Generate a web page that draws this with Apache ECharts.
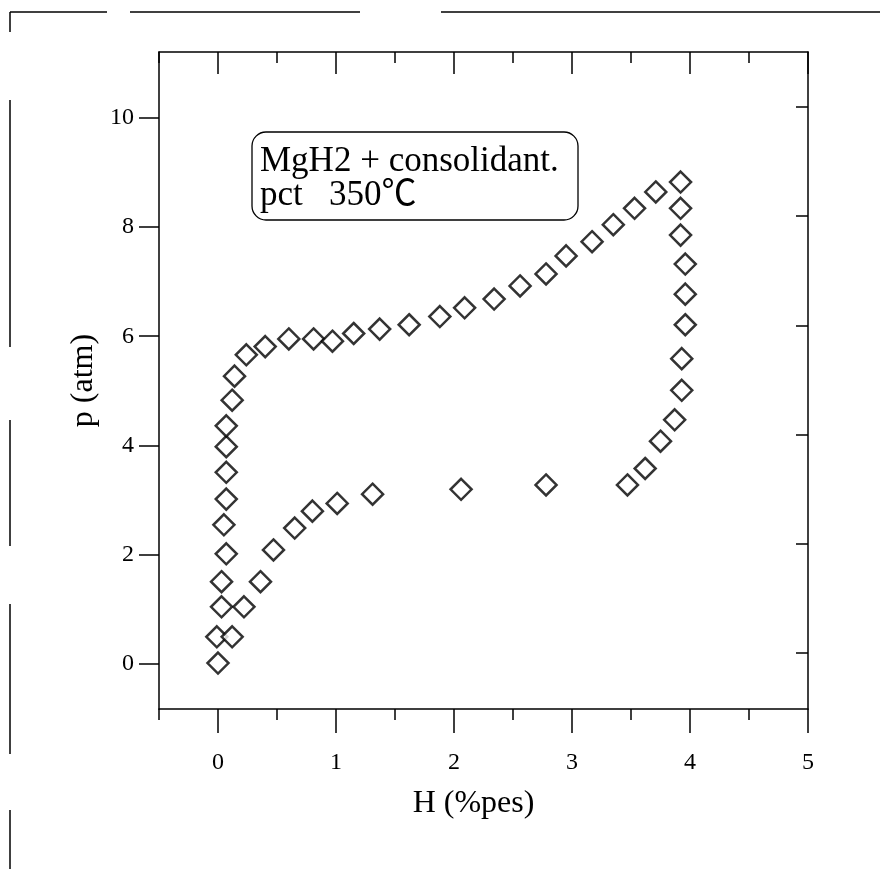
<!DOCTYPE html>
<html><head><meta charset="utf-8">
<script src="https://cdn.jsdelivr.net/npm/echarts@6/dist/echarts.min.js"></script>
<style>html,body{margin:0;padding:0;background:#fff}#c{width:880px;height:869px}</style>
</head><body><div id="c"></div>
<script>
// Absorption branch (upper, ~6 atm plateau)
const absH = [0.00, -0.01, 0.03, 0.03, 0.07, 0.05, 0.07, 0.07, 0.07, 0.07, 0.12, 0.14, 0.24, 0.40, 0.60, 0.81, 0.97, 1.15, 1.37, 1.62, 1.88, 2.09, 2.34, 2.56, 2.78, 2.95, 3.17, 3.35, 3.53, 3.71, 3.92];
const absP = [0.02, 0.50, 1.05, 1.51, 2.02, 2.55, 3.02, 3.51, 3.98, 4.36, 4.83, 5.27, 5.66, 5.81, 5.95, 5.95, 5.91, 6.05, 6.13, 6.21, 6.36, 6.52, 6.68, 6.92, 7.14, 7.47, 7.73, 8.04, 8.34, 8.64, 8.82];
// Desorption branch (lower, ~3 atm plateau)
const desH = [3.92, 3.92, 3.96, 3.96, 3.96, 3.93, 3.93, 3.87, 3.75, 3.62, 3.47, 2.78, 2.06, 1.31, 1.01, 0.80, 0.65, 0.47, 0.36, 0.22, 0.12];
const desP = [8.34, 7.85, 7.32, 6.77, 6.21, 5.59, 5.01, 4.47, 4.08, 3.58, 3.28, 3.28, 3.20, 3.11, 2.94, 2.80, 2.49, 2.09, 1.51, 1.05, 0.50];

const xTicks = [0, 1, 2, 3, 4, 5];
const yTicks = [0, 2, 4, 6, 8, 10];
const xTitle = 'H (%pes)';
const yTitle = 'p (atm)';
const noteLines = ['MgH2 + consolidant.', 'pct   350\u2103'];

const FONT = '"Liberation Serif", "Times New Roman", "Noto Sans CJK JP", serif';
const INK = '#000';

function pairs(xs, ys) { return xs.map((x, i) => [x, ys[i]]); }

const chart = echarts.init(document.getElementById('c'), null, { renderer: 'canvas' });

const lineStyle = { color: INK, width: 1.5 };
const xMin = -0.5, xMax = 5;
const yMin = -0.82, yMax = 11.2;

const option = {
  backgroundColor: '#fff',
  animation: false,
  grid: { left: 159, right: 72, top: 52, bottom: 160, containLabel: false },
  xAxis: [
    { type: 'value', position: 'bottom', min: xMin, max: xMax, interval: 0.5,
      axisLine: { show: true, onZero: false, lineStyle }, axisTick: { show: true, inside: false, length: 11, lineStyle },
      axisLabel: { show: false }, splitLine: { show: false } },
    { type: 'value', position: 'bottom', min: xMin, max: xMax,
      axisLine: { show: false, onZero: false }, axisTick: { show: true, inside: false, length: 24, customValues: xTicks, lineStyle },
      axisLabel: { show: true, customValues: xTicks, margin: 42, color: INK, fontFamily: FONT, fontSize: 24 },
      splitLine: { show: false },
      name: xTitle, nameLocation: 'middle', nameGap: 79,
      nameTextStyle: { color: INK, fontFamily: FONT, fontSize: 32, padding: [0, 20, 0, 0] } },
    { type: 'value', position: 'top', min: xMin, max: xMax, interval: 0.5,
      axisLine: { show: true, onZero: false, lineStyle }, axisTick: { show: true, inside: true, length: 11, lineStyle },
      axisLabel: { show: false }, splitLine: { show: false } },
    { type: 'value', position: 'top', min: xMin, max: xMax,
      axisLine: { show: false, onZero: false }, axisTick: { show: true, inside: true, length: 22, customValues: xTicks, lineStyle },
      axisLabel: { show: false }, splitLine: { show: false } }
  ],
  yAxis: [
    { type: 'value', position: 'left', min: yMin, max: yMax,
      axisLine: { show: true, onZero: false, lineStyle }, axisTick: { show: true, inside: false, length: 20, customValues: yTicks, lineStyle },
      axisLabel: { show: true, customValues: yTicks, margin: 25, color: INK, fontFamily: FONT, fontSize: 24 },
      splitLine: { show: false },
      name: yTitle, nameLocation: 'middle', nameGap: 54,
      nameTextStyle: { color: INK, fontFamily: FONT, fontSize: 32 } },
    { type: 'value', position: 'right', min: yMin - 0.2, max: yMax - 0.2,
      axisLine: { show: true, onZero: false, lineStyle }, axisTick: { show: true, inside: true, length: 12, customValues: yTicks, lineStyle },
      axisLabel: { show: false }, splitLine: { show: false } }
  ],
  series: [
    { name: 'absorption', type: 'scatter', xAxisIndex: 0, yAxisIndex: 0, data: pairs(absH, absP),
      symbol: 'diamond', symbolSize: 21,
      itemStyle: { color: '#fff', borderColor: INK, borderWidth: 2.5 } },
    { name: 'desorption', type: 'scatter', xAxisIndex: 0, yAxisIndex: 0, data: pairs(desH, desP),
      symbol: 'diamond', symbolSize: 21,
      itemStyle: { color: '#fff', borderColor: INK, borderWidth: 2.5 } }
  ],
  graphic: [
    // outer figure border (scanned frame)
    { type: 'line', shape: { x1: 10, y1: 12, x2: 107, y2: 12 }, style: { stroke: INK, lineWidth: 1.5 } },
    { type: 'line', shape: { x1: 130, y1: 12, x2: 360, y2: 12 }, style: { stroke: INK, lineWidth: 1.5 } },
    { type: 'line', shape: { x1: 441, y1: 12, x2: 880, y2: 12 }, style: { stroke: INK, lineWidth: 1.5 } },
    { type: 'line', shape: { x1: 10, y1: 12, x2: 10, y2: 32 }, style: { stroke: INK, lineWidth: 1.5 } },
    { type: 'line', shape: { x1: 10, y1: 100, x2: 10, y2: 347 }, style: { stroke: INK, lineWidth: 1.5 } },
    { type: 'line', shape: { x1: 10, y1: 420, x2: 10, y2: 546 }, style: { stroke: INK, lineWidth: 1.5 } },
    { type: 'line', shape: { x1: 10, y1: 604, x2: 10, y2: 754 }, style: { stroke: INK, lineWidth: 1.5 } },
    { type: 'line', shape: { x1: 10, y1: 810, x2: 10, y2: 869 }, style: { stroke: INK, lineWidth: 1.5 } },
    // annotation box
    { type: 'rect', shape: { x: 252, y: 132, width: 326, height: 88, r: 14 },
      style: { fill: '#fff', stroke: INK, lineWidth: 1.3 }, z: 5 },
    { type: 'text', x: 260, y: 162, z: 6,
      style: { text: noteLines[0], fill: INK, font: '35px ' + FONT, verticalAlign: 'middle' } },
    { type: 'text', x: 260, y: 196, z: 6,
      style: { text: noteLines[1], fill: INK, font: '35px ' + FONT, verticalAlign: 'middle' } }
  ]
};
chart.setOption(option);
</script>
</body></html>
